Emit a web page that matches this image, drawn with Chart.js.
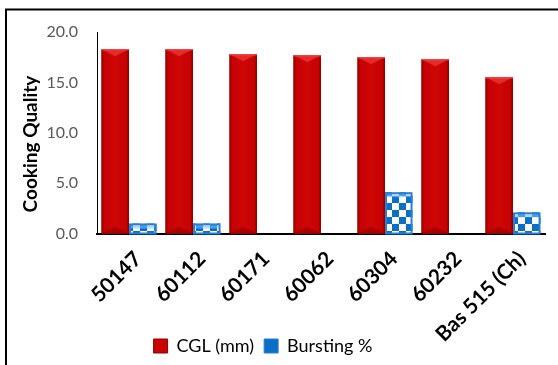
<!DOCTYPE html>
<html>
<head>
<meta charset="utf-8">
<script src="https://cdn.jsdelivr.net/npm/chart.js@4/dist/chart.umd.min.js"></script>
<style>
  html, body { margin: 0; padding: 0; background: #fff; }
  #wrap { position: relative; width: 558px; height: 365px; }
</style>
</head>
<body>
<div id="wrap"><canvas id="chart" width="558" height="365"></canvas></div>
<script>
// Rice line cooking quality data
const varieties = ['50147', '60112', '60171', '60062', '60304', '60232', 'Bas 515 (Ch)'];
const cglMm = [18.3, 18.3, 17.8, 17.7, 17.5, 17.3, 15.5];
const burstingPct = [1.0, 1.0, 0, 0, 4.1, 0, 2.1];
const yTicks = [0, 5, 10, 15, 20];

const FONT = 'Lato, "Open Sans", sans-serif';
const RED = '#c80404';
const BLUE = '#0b6fc7';

// Blue / white checkerboard fill for the bursting series
function makeChecker() {
  const c = document.createElement('canvas');
  c.width = 14; c.height = 14;
  const g = c.getContext('2d');
  g.fillStyle = '#ffffff';
  g.fillRect(0, 0, 14, 14);
  g.fillStyle = BLUE;
  g.fillRect(0, 0, 7, 7);
  g.fillRect(7, 7, 7, 7);
  return g.createPattern(c, 'repeat');
}

const ctx0 = document.getElementById('chart').getContext('2d');
const checker = makeChecker();

// Outer frame around the figure
const framePlugin = {
  id: 'frame',
  beforeDraw(chart) {
    const c = chart.ctx;
    c.save();
    c.strokeStyle = '#000';
    c.lineWidth = 2;
    c.strokeRect(6, 9.5, 700, 500);
    c.restore();
  }
};

// Let the slanted category labels run down past the axis box
const labelRoomPlugin = {
  id: 'labelRoom',
  afterLayout(chart) {
    chart.scales.x.bottom = chart.height;
  }
};

// Bevel shading on the red bars and a framed look on the checker bars
const bevelPlugin = {
  id: 'bevel',
  afterDatasetsDraw(chart) {
    const c = chart.ctx;
    chart.data.datasets.forEach((ds, di) => {
      const meta = chart.getDatasetMeta(di);
      meta.data.forEach(bar => {
        const p = bar.getProps(['x', 'y', 'base', 'width'], true);
        const l = p.x - p.width / 2, r = p.x + p.width / 2;
        const t = Math.min(p.y, p.base), b = Math.max(p.y, p.base);
        const h = b - t;
        if (h < 0.5) return;
        c.save();
        if (di === 0) {
          const g = c.createLinearGradient(l, 0, r, 0);
          g.addColorStop(0, '#8e0000');
          g.addColorStop(0.1, '#c60202');
          g.addColorStop(0.5, '#ce0606');
          g.addColorStop(0.9, '#c60202');
          g.addColorStop(1, '#8e0000');
          c.fillStyle = g;
          c.fillRect(l, t, r - l, h);
          // top bevel
          const bv = Math.min(7, h / 2);
          c.fillStyle = '#e62a2a';
          c.beginPath();
          c.moveTo(l, t); c.lineTo(r, t); c.lineTo(p.x, t + bv); c.closePath();
          c.fill();
          c.fillStyle = '#f04a4a';
          c.fillRect(l, t, r - l, 1.2);
          // bottom bevel
          c.fillStyle = '#a80000';
          c.beginPath();
          c.moveTo(l, b); c.lineTo(r, b); c.lineTo(p.x, b - bv); c.closePath();
          c.fill();
        } else {
          c.strokeStyle = '#2a7fd0';
          c.lineWidth = 2;
          c.strokeRect(l + 1, t + 1, r - l - 2, h - 1);
          c.fillStyle = 'rgba(120,190,255,0.6)';
          c.fillRect(l + 2, t + 2, r - l - 4, Math.min(3, h - 3));
        }
        c.restore();
      });
    });
  }
};

// Rotated title for the value axis
const yTitlePlugin = {
  id: 'yTitle',
  afterDraw(chart) {
    const c = chart.ctx;
    c.save();
    c.translate(31, 144);
    c.rotate(-Math.PI / 2);
    c.font = 'bold 19px ' + FONT;
    c.fillStyle = '#000';
    c.textAlign = 'center';
    c.textBaseline = 'middle';
    c.fillText('Cooking Quality', 0, 0);
    c.restore();
  }
};

const PLOT_TOP = 32, PLOT_BOTTOM = 233.5, PLOT_LEFT = 97, PAD_LEFT = -19, PAD_RIGHT = 13, PAD_BOTTOM = 0;

new Chart(ctx0, {
  type: 'bar',
  data: {
    labels: varieties,
    datasets: [
      {
        label: 'CGL (mm)',
        data: cglMm,
        backgroundColor: RED,
        borderWidth: 0,
        categoryPercentage: 0.86,
        barPercentage: 1.0
      },
      {
        label: 'Bursting %',
        data: burstingPct,
        backgroundColor: checker,
        borderWidth: 0,
        categoryPercentage: 0.86,
        barPercentage: 1.0
      }
    ]
  },
  options: {
    responsive: false,
    animation: false,
    devicePixelRatio: 1,
    layout: { padding: { left: PAD_LEFT, top: PLOT_TOP, right: PAD_RIGHT, bottom: PAD_BOTTOM } },
    plugins: {
      tooltip: { enabled: false },
      legend: {
        position: 'bottom',
        labels: {
          font: { family: FONT, size: 18 },
          color: '#000',
          boxWidth: 14,
          boxHeight: 14,
          padding: 10,
          generateLabels(chart) {
            return chart.data.datasets.map((ds, i) => ({
              text: ds.label,
              fillStyle: i === 0 ? RED : BLUE,
              strokeStyle: i === 0 ? '#8e0000' : '#2a7fd0',
              lineWidth: 1,
              hidden: false,
              datasetIndex: i,
              fontColor: '#000'
            }));
          }
        }
      }
    },
    scales: {
      x: {
        grid: { display: false },
        border: { display: true, color: '#000', width: 2 },
        ticks: {
          font: { family: FONT, size: 21, weight: 'bold' },
          color: '#000',
          minRotation: 45,
          maxRotation: 45,
          padding: 5,
          labelOffset: 9,
          autoSkip: false
        },
        afterFit(scale) {
          const legendH = scale.chart.legend ? scale.chart.legend.height : 30;
          scale.height = scale.chart.height - PAD_BOTTOM - legendH - PLOT_BOTTOM;
        }
      },
      y: {
        min: 0,
        max: 20,
        grid: { display: false },
        border: { display: true, color: '#000', width: 1 },
        afterBuildTicks(scale) {
          scale.ticks = yTicks.map(v => ({ value: v }));
        },
        ticks: {
          font: { family: FONT, size: 16 },
          color: '#595959',
          padding: 11,
          callback: v => Number(v).toFixed(1)
        },
        afterFit(scale) {
          scale.width = PLOT_LEFT - PAD_LEFT;
        }
      }
    }
  },
  plugins: [framePlugin, labelRoomPlugin, bevelPlugin, yTitlePlugin]
});
</script>
</body>
</html>
